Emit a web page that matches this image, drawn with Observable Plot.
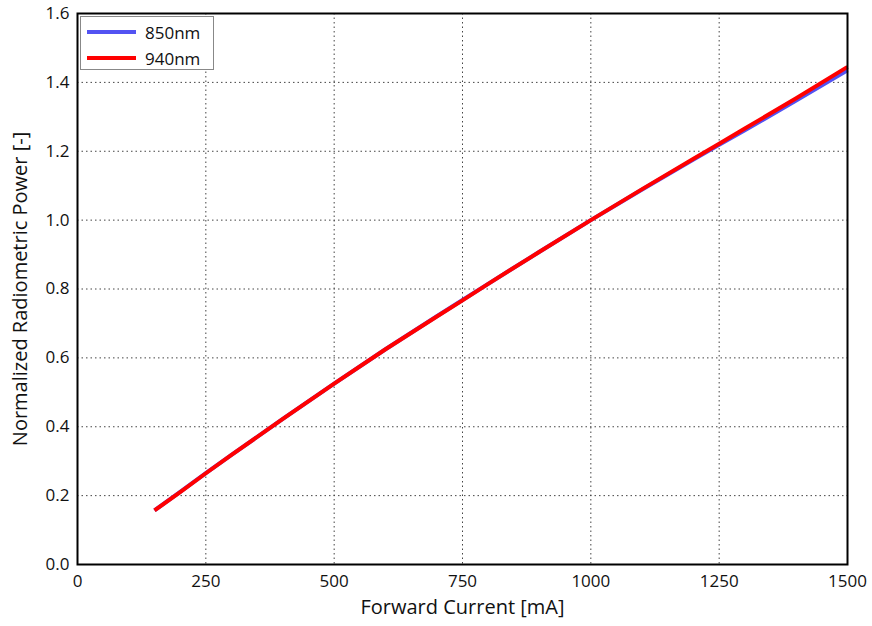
<!DOCTYPE html>
<html>
<head>
<meta charset="utf-8">
<script src="https://cdn.jsdelivr.net/npm/d3@7"></script>
<script src="https://cdn.jsdelivr.net/npm/@observablehq/plot@0.6"></script>
<style>
  body { margin: 0; background: #fff; font-family: "Open Sans", sans-serif; }
  #wrap { position: relative; width: 872px; height: 626px; }
  #legend { position: absolute; left: 80px; top: 16px; width: 134px; height: 54px;
    background: #fff; border: 1px solid #888; box-sizing: border-box; font-family: "Open Sans", sans-serif; font-size: 17px; color: #111; }
  .item { position: absolute; left: 6px; height: 22px; display: flex; align-items: center; }
  .sw { width: 49px; height: 4px; margin-right: 9px; }
</style>
</head>
<body>
<div id="wrap"><div id="chart"></div><div id="legend"></div></div>
<script>
const series = ["850nm", "940nm"];
const colors = ["#5353f2", "#ff0000"];
const current = [150, 200, 250, 300, 400, 500, 600, 700, 750, 800, 900, 1000, 1100, 1200, 1250, 1300, 1400, 1500];
const power850 = [0.157, 0.211, 0.265, 0.318, 0.423, 0.525, 0.625, 0.721, 0.768, 0.815, 0.908, 1.0, 1.089, 1.176, 1.219, 1.261, 1.347, 1.435];
const power940 = [0.157, 0.21, 0.265, 0.318, 0.423, 0.525, 0.625, 0.72, 0.767, 0.815, 0.908, 1.0, 1.09, 1.178, 1.222, 1.266, 1.354, 1.445];
const xTicks = [0, 250, 500, 750, 1000, 1250, 1500];
const yTicks = [0, 0.2, 0.4, 0.6, 0.8, 1.0, 1.2, 1.4, 1.6];

const data = [];
current.forEach((c, i) => data.push({series: series[0], x: c, y: power850[i]}));
current.forEach((c, i) => data.push({series: series[1], x: c, y: power940[i]}));

const chart = Plot.plot({
  width: 872, height: 626,
  marginLeft: 77, marginRight: 25, marginTop: 13, marginBottom: 62,
  style: {fontFamily: "Open Sans", fontSize: "17px", color: "#111", background: "#fff"},
  x: {domain: [0, 1500]},
  y: {domain: [0, 1.6]},
  color: {domain: series, range: colors},
  marks: [
    Plot.gridX(xTicks.slice(1, -1), {stroke: "#444", strokeOpacity: 1, strokeDasharray: "1.5,3"}),
    Plot.gridY(yTicks.slice(1, -1), {stroke: "#444", strokeOpacity: 1, strokeDasharray: "1.5,3"}),
    Plot.axisX(xTicks, {tickSize: 0, tickPadding: 10, label: null, fontSize: 17, tickFormat: d => String(d)}),
    Plot.axisY(yTicks, {tickSize: 0, tickPadding: 8, label: null, fontSize: 17, tickFormat: d3.format(".1f")}),
    Plot.line(data, {x: "x", y: "y", z: "series", stroke: "series", strokeWidth: 4, strokeLinecap: "butt"}),
    Plot.frame({stroke: "#000", strokeWidth: 2}),
    Plot.text(["Forward Current [mA]"], {frameAnchor: "bottom", dy: 49, fontSize: 20, fill: "#111"}),
    Plot.text(["Normalized Radiometric Power [-]"], {frameAnchor: "left", textAnchor: "middle", dx: -57, rotate: -90, fontSize: 20, fill: "#111"})
  ]
});
document.getElementById("chart").appendChild(chart);

const legend = document.getElementById("legend");
series.forEach((s, i) => {
  const it = document.createElement("div");
  it.className = "item";
  it.style.top = (4 + i * 26) + "px";
  it.innerHTML = `<div class="sw" style="background:${colors[i]}"></div><span>${s}</span>`;
  legend.appendChild(it);
});
</script>
</body>
</html>
